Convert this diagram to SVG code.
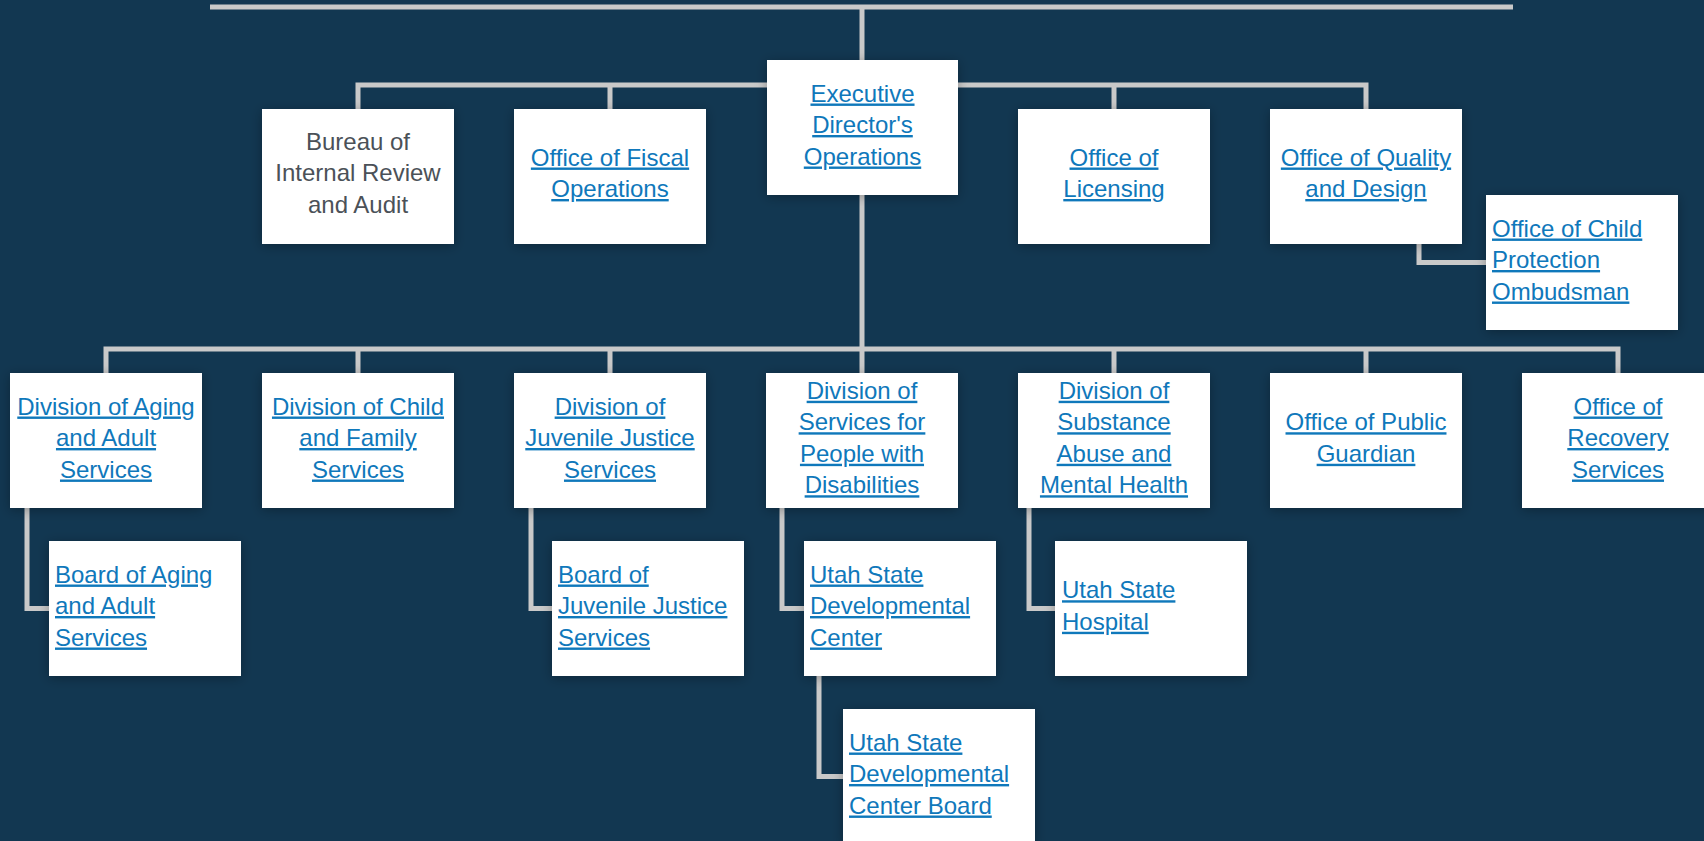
<svg xmlns="http://www.w3.org/2000/svg" width="1704" height="841" viewBox="0 0 1704 841">
<style>
.bg{fill:#123751}
.box{fill:#ffffff;filter:url(#sh)}
.con{fill:none;stroke:#c9c9c9;stroke-width:5}
.t{font-family:"Liberation Sans",Arial,sans-serif;font-size:24px}
.lk{fill:#0f78bb;text-decoration:underline}
.pl{fill:#4b5158}
.c{text-anchor:middle}
</style>
<defs>
<filter id="sh" x="-20%" y="-20%" width="140%" height="140%">
<feDropShadow dx="0" dy="2" stdDeviation="6" flood-color="#000000" flood-opacity="0.3"/>
</filter>
</defs>
<rect class="bg" x="0" y="0" width="1704" height="841"/>
<g id="connectors">
<path class="con" d="M210 7H1513"/>
<path class="con" d="M862 7V60"/>
<path class="con" d="M358 109V85H1366V109M610 85V109M1114 85V109"/>
<path class="con" d="M862 195V349"/>
<path class="con" d="M106 373V349H1618V373M358 349V373M610 349V373M862 349V373M1114 349V373M1366 349V373"/>
<path class="con" d="M1419 244V262.5H1486"/>
<path class="con" d="M27 508V608.5H49"/>
<path class="con" d="M531 508V608.5H552"/>
<path class="con" d="M782 508V608.5H804"/>
<path class="con" d="M1029 508V608.5H1055"/>
<path class="con" d="M819 676V776.5H843"/>
</g>
<g id="executive">
<rect class="box" x="767" y="60" width="191" height="135"/>
<text class="t lk c"><tspan x="862.5" y="101.5">Executive</tspan><tspan x="862.5" y="133">Director's</tspan><tspan x="862.5" y="164.5">Operations</tspan></text>
</g>
<g id="bureau">
<rect class="box" x="262" y="109" width="192" height="135"/>
<text class="t pl c"><tspan x="358" y="149.5">Bureau of</tspan><tspan x="358" y="181">Internal Review</tspan><tspan x="358" y="212.5">and Audit</tspan></text>
</g>
<g id="fiscal">
<rect class="box" x="514" y="109" width="192" height="135"/>
<text class="t lk c"><tspan x="610" y="165.5">Office of Fiscal</tspan><tspan x="610" y="197">Operations</tspan></text>
</g>
<g id="licensing">
<rect class="box" x="1018" y="109" width="192" height="135"/>
<text class="t lk c"><tspan x="1114" y="165.5">Office of</tspan><tspan x="1114" y="197">Licensing</tspan></text>
</g>
<g id="quality">
<rect class="box" x="1270" y="109" width="192" height="135"/>
<text class="t lk c"><tspan x="1366" y="165.5">Office of Quality</tspan><tspan x="1366" y="197">and Design</tspan></text>
</g>
<g id="ombudsman">
<rect class="box" x="1486" y="195" width="192" height="135"/>
<text class="t lk"><tspan x="1492" y="236.5">Office of Child</tspan><tspan x="1492" y="268">Protection</tspan><tspan x="1492" y="299.5">Ombudsman</tspan></text>
</g>
<g id="aging">
<rect class="box" x="10" y="373" width="192" height="135"/>
<text class="t lk c"><tspan x="106" y="414.5">Division of Aging</tspan><tspan x="106" y="446">and Adult</tspan><tspan x="106" y="477.5">Services</tspan></text>
</g>
<g id="child-family">
<rect class="box" x="262" y="373" width="192" height="135"/>
<text class="t lk c"><tspan x="358" y="414.5">Division of Child</tspan><tspan x="358" y="446">and Family</tspan><tspan x="358" y="477.5">Services</tspan></text>
</g>
<g id="juvenile">
<rect class="box" x="514" y="373" width="192" height="135"/>
<text class="t lk c"><tspan x="610" y="414.5">Division of</tspan><tspan x="610" y="446">Juvenile Justice</tspan><tspan x="610" y="477.5">Services</tspan></text>
</g>
<g id="disabilities">
<rect class="box" x="766" y="373" width="192" height="135"/>
<text class="t lk c"><tspan x="862" y="398.75">Division of</tspan><tspan x="862" y="430.25">Services for</tspan><tspan x="862" y="461.75">People with</tspan><tspan x="862" y="493.25">Disabilities</tspan></text>
</g>
<g id="substance">
<rect class="box" x="1018" y="373" width="192" height="135"/>
<text class="t lk c"><tspan x="1114" y="398.75">Division of</tspan><tspan x="1114" y="430.25">Substance</tspan><tspan x="1114" y="461.75">Abuse and</tspan><tspan x="1114" y="493.25">Mental Health</tspan></text>
</g>
<g id="public-guardian">
<rect class="box" x="1270" y="373" width="192" height="135"/>
<text class="t lk c"><tspan x="1366" y="430.25">Office of Public</tspan><tspan x="1366" y="461.75">Guardian</tspan></text>
</g>
<g id="recovery">
<rect class="box" x="1522" y="373" width="192" height="135"/>
<text class="t lk c"><tspan x="1618" y="414.5">Office of</tspan><tspan x="1618" y="446">Recovery</tspan><tspan x="1618" y="477.5">Services</tspan></text>
</g>
<g id="board-aging">
<rect class="box" x="49" y="541" width="192" height="135"/>
<text class="t lk"><tspan x="55" y="582.5">Board of Aging</tspan><tspan x="55" y="614">and Adult</tspan><tspan x="55" y="645.5">Services</tspan></text>
</g>
<g id="board-juvenile">
<rect class="box" x="552" y="541" width="192" height="135"/>
<text class="t lk"><tspan x="558" y="582.5">Board of</tspan><tspan x="558" y="614">Juvenile Justice</tspan><tspan x="558" y="645.5">Services</tspan></text>
</g>
<g id="dev-center">
<rect class="box" x="804" y="541" width="192" height="135"/>
<text class="t lk"><tspan x="810" y="582.5">Utah State</tspan><tspan x="810" y="614">Developmental</tspan><tspan x="810" y="645.5">Center</tspan></text>
</g>
<g id="state-hospital">
<rect class="box" x="1055" y="541" width="192" height="135"/>
<text class="t lk"><tspan x="1062" y="598.25">Utah State</tspan><tspan x="1062" y="629.75">Hospital</tspan></text>
</g>
<g id="dev-center-board">
<rect class="box" x="843" y="709" width="192" height="135"/>
<text class="t lk"><tspan x="849" y="750.5">Utah State</tspan><tspan x="849" y="782">Developmental</tspan><tspan x="849" y="813.5">Center Board</tspan></text>
</g>
</svg>
